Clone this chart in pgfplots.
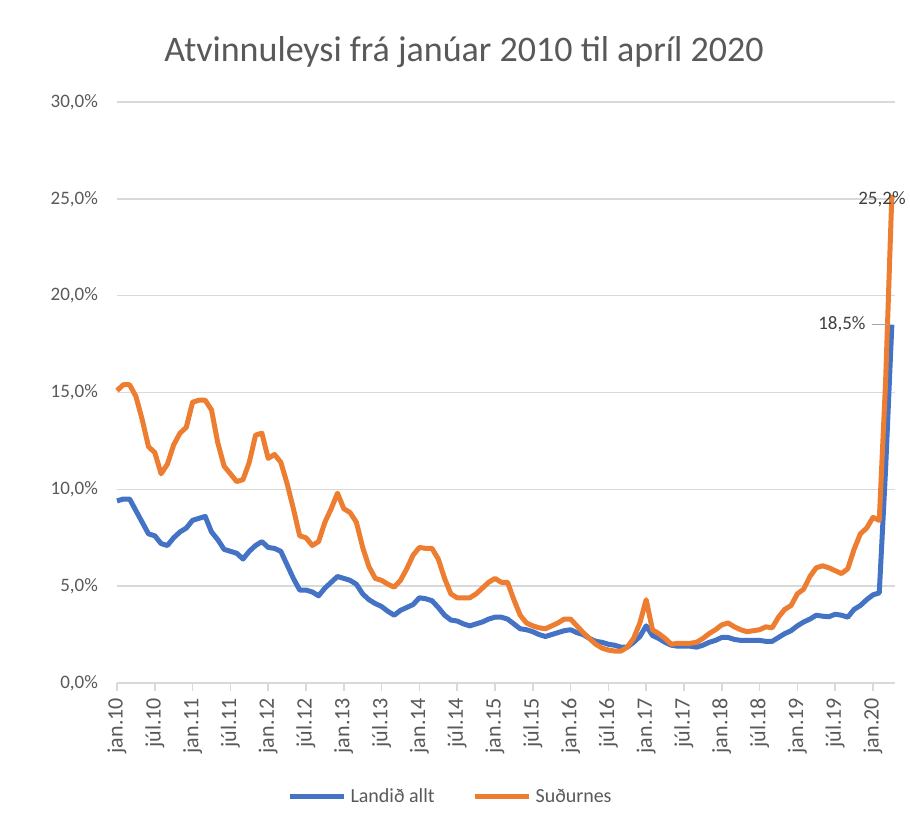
\documentclass[border=0pt]{standalone}
\usepackage{pgfplots}
\pgfplotsset{compat=1.18}
\usepackage{pgfplotstable}
\usepackage{fontspec}
\setmainfont{Carlito}
\definecolor{blueL}{HTML}{4472C4}
\definecolor{orangeS}{HTML}{ED7D31}
\definecolor{txt}{HTML}{595959}
\definecolor{lbl}{HTML}{404040}
\definecolor{gridc}{HTML}{D9D9D9}

\pgfplotstableread{
i land sud
0 9.4 15.1
1 9.5 15.4
2 9.5 15.4
3 8.9 14.8
4 8.3 13.6
5 7.7 12.2
6 7.6 11.9
7 7.2 10.8
8 7.1 11.3
9 7.5 12.3
10 7.8 12.9
11 8.0 13.2
12 8.4 14.5
13 8.5 14.6
14 8.6 14.6
15 7.8 14.1
16 7.4 12.4
17 6.9 11.2
18 6.8 10.8
19 6.7 10.4
20 6.4 10.5
21 6.8 11.4
22 7.1 12.8
23 7.3 12.9
24 7.0 11.6
25 6.95 11.8
26 6.8 11.4
27 6.1 10.3
28 5.4 9.0
29 4.8 7.6
30 4.8 7.5
31 4.7 7.1
32 4.5 7.3
33 4.9 8.3
34 5.2 9.0
35 5.5 9.8
36 5.4 9.0
37 5.3 8.8
38 5.1 8.3
39 4.6 7.0
40 4.3 6.0
41 4.1 5.4
42 3.95 5.3
43 3.7 5.1
44 3.5 4.95
45 3.75 5.3
46 3.9 5.9
47 4.05 6.6
48 4.4 7.0
49 4.35 6.95
50 4.25 6.95
51 3.9 6.4
52 3.5 5.4
53 3.25 4.6
54 3.2 4.4
55 3.05 4.4
56 2.95 4.4
57 3.05 4.6
58 3.15 4.9
59 3.3 5.2
60 3.4 5.4
61 3.4 5.2
62 3.3 5.2
63 3.05 4.3
64 2.8 3.5
65 2.75 3.1
66 2.65 2.95
67 2.5 2.85
68 2.4 2.8
69 2.5 2.95
70 2.6 3.1
71 2.7 3.3
72 2.75 3.3
73 2.6 2.95
74 2.5 2.6
75 2.3 2.3
76 2.15 2.0
77 2.1 1.8
78 2.0 1.7
79 1.95 1.65
80 1.85 1.65
81 1.85 1.85
82 2.1 2.3
83 2.4 3.1
84 2.95 4.3
85 2.45 2.75
86 2.3 2.55
87 2.1 2.3
88 1.95 2.0
89 1.9 2.05
90 1.9 2.05
91 1.9 2.05
92 1.85 2.1
93 1.95 2.3
94 2.1 2.55
95 2.2 2.75
96 2.35 3.0
97 2.35 3.1
98 2.25 2.9
99 2.2 2.75
100 2.2 2.65
101 2.2 2.7
102 2.2 2.75
103 2.15 2.9
104 2.15 2.85
105 2.35 3.4
106 2.55 3.8
107 2.7 4.0
108 2.95 4.6
109 3.15 4.85
110 3.3 5.5
111 3.5 5.95
112 3.45 6.05
113 3.42 5.95
114 3.55 5.8
115 3.5 5.65
116 3.4 5.9
117 3.8 6.9
118 4.0 7.7
119 4.3 8.0
120 4.55 8.55
121 4.65 8.4
122 11.0 15.5
123 18.5 25.2
}\datatab

\begin{document}
\begin{tikzpicture}
\useasboundingbox (0,0) rectangle (455pt,414pt);
\node[text=txt, font=\fontsize{18}{21}\selectfont] at (232pt,388pt) {Atvinnuleysi frá janúar 2010 til apríl 2020};
\begin{axis}[
  at={(58.5pt,72.5pt)}, anchor=south west,
  scale only axis, width=389pt, height=290.5pt,
  xmin=0, xmax=123.5, ymin=0, ymax=30,
  clip=false,
  axis x line*=bottom, axis y line*=left,
  y axis line style={draw=none},
  x axis line style={draw=gridc, line width=0.75pt, -},
  ytick={0,5,...,30},
  yticklabels={{0,0\%},{5,0\%},{10,0\%},{15,0\%},{20,0\%},{25,0\%},{30,0\%}},
  ymajorgrids, major grid style={draw=gridc, line width=0.75pt},
  ytick style={draw=none},
  yticklabel style={xshift=-6pt, font=\fontsize{9.5}{11}\selectfont, text=txt},
  xtick={0,6,...,120},
  xticklabels={jan.10,júl.10,jan.11,júl.11,jan.12,júl.12,jan.13,júl.13,jan.14,júl.14,jan.15,júl.15,jan.16,júl.16,jan.17,júl.17,jan.18,júl.18,jan.19,júl.19,jan.20},
  xtick style={draw=gridc, line width=0.75pt},
  xtick align=outside, major tick length=4pt,
  xticklabel style={rotate=90, anchor=east, font=\fontsize{11}{12}\selectfont, text=txt},
  legend style={at={(0.43,-0.196)}, anchor=center, draw=none, fill=none,
    legend columns=2, font=\fontsize{10}{12}\selectfont, text=txt,
    /tikz/every even column/.append style={column sep=17pt}},
  legend image code/.code={\draw[#1] (0pt,0pt) -- (27pt,0pt);},
]
\addplot[blueL, line width=2.5pt, line join=round] table[x=i, y=land] {\datatab};
\addlegendentry{Landið allt}
\addplot[orangeS, line width=2.5pt, line join=round] table[x=i, y=sud] {\datatab};
\addlegendentry{Suðurnes}
\node[anchor=west, text=lbl, font=\fontsize{9.5}{11}\selectfont, inner sep=1pt] at (axis cs:117.3,25.0) {25,2\%};
\node[anchor=east, text=lbl, font=\fontsize{9.5}{11}\selectfont, inner sep=1pt] at (axis cs:119.2,18.5) {18,5\%};
\draw[gray!70, line width=0.6pt] (axis cs:119.8,18.5) -- (axis cs:122.4,18.5);
\end{axis}
\end{tikzpicture}
\end{document}
